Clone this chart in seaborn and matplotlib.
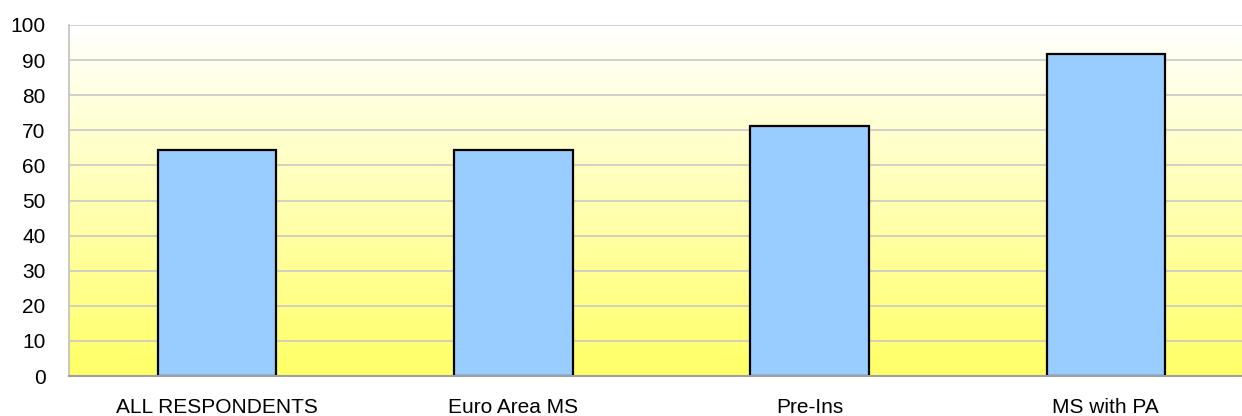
import numpy as np
import pandas as pd
import matplotlib
matplotlib.use("Agg")
import matplotlib.pyplot as plt
import seaborn as sns
from matplotlib.colors import LinearSegmentedColormap

categories = ["ALL RESPONDENTS", "Euro Area MS", "Pre-Ins", "MS with PA"]
values = [64.4, 64.4, 71.2, 91.8]
yticks = [0, 10, 20, 30, 40, 50, 60, 70, 80, 90, 100]

sns.set_theme(style="white")
plt.rcParams['font.family'] = ['Liberation Sans', 'DejaVu Sans']

fig = plt.figure(figsize=(12.42, 4.16), dpi=100)
ax = fig.add_axes([69/1242, 40/416, 1185/1242, 351/416])

df = pd.DataFrame({"cat": categories, "val": values})

# gradient background
grad = np.linspace(0, 1, 256).reshape(-1, 1)
cmap = LinearSegmentedColormap.from_list("yw", ["#FFFF66", "#FFFFFF"])
ax.imshow(grad, aspect="auto", cmap=cmap, origin="lower",
          extent=[-0.5, 3.5, 0, 100], zorder=0)

sns.barplot(data=df, x="cat", y="val", ax=ax, color="#99CCFF", width=0.4,
            edgecolor="black", linewidth=1.6, saturation=1, zorder=3)

ax.set_xlim(-0.5, 3.5)
ax.set_ylim(0, 100)
ax.set_yticks(yticks)
ax.set_yticklabels([str(t) for t in yticks])
ax.yaxis.grid(True, color="#C8C8C8", linewidth=1.2, zorder=1)
ax.set_axisbelow(False)
for gl in ax.get_ygridlines():
    gl.set_zorder(1)
ax.xaxis.grid(False)
ax.set_xlabel("")
ax.set_ylabel("")
ax.tick_params(axis="y", length=0, pad=17, labelsize=15, colors="black")
ax.tick_params(axis="x", length=0, pad=16, labelsize=15, colors="black")
for s in ["top", "right"]:
    ax.spines[s].set_visible(False)
ax.spines["left"].set_color("#C0C0C0")
ax.spines["left"].set_linewidth(1.2)
ax.spines["bottom"].set_color("#A0A0A0")
ax.spines["bottom"].set_linewidth(1.5)
ax.spines["bottom"].set_zorder(5)

fig.savefig("out.png", dpi=100)
